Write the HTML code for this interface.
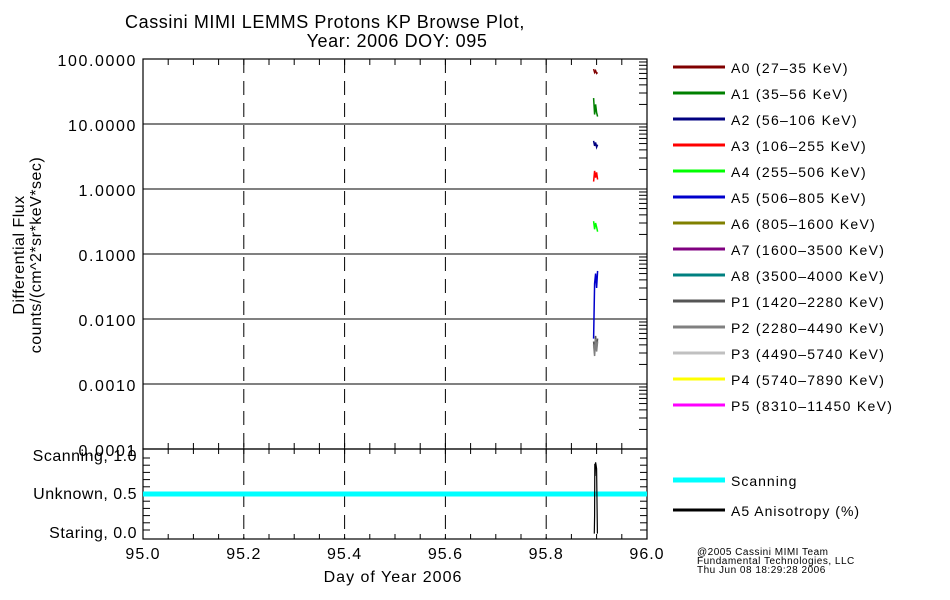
<!DOCTYPE html>
<html><head><meta charset="utf-8"><style>
body{margin:0;background:#fff;}
svg{display:block;font-family:"Liberation Sans",sans-serif;}
</style></head><body>
<svg id="c" width="950" height="600" viewBox="0 0 950 600">
<rect width="950" height="600" fill="#fff"/>
<text x="325" y="28" font-size="18" letter-spacing="0.6" text-anchor="middle">Cassini MIMI LEMMS Protons KP Browse Plot,</text>
<text x="397" y="47" font-size="18" letter-spacing="0.6" text-anchor="middle">Year: 2006 DOY: 095</text>
<g id="g"></g>
</svg>
<script>
const xTicks=[95.0,95.2,95.4,95.6,95.8,96.0];
const yTicks=[100,10,1,0.1,0.01,0.001,0.0001];
const yTickLabels=["100.0000","10.0000","1.0000","0.1000","0.0100","0.0010","0.0001"];
const times=[95.894,95.896,95.898,95.900,95.902];
const seriesNames=["A0 (27–35 KeV)","A1 (35–56 KeV)","A2 (56–106 KeV)","A3 (106–255 KeV)","A4 (255–506 KeV)","A5 (506–805 KeV)","A6 (805–1600 KeV)","A7 (1600–3500 KeV)","A8 (3500–4000 KeV)","P1 (1420–2280 KeV)","P2 (2280–4490 KeV)","P3 (4490–5740 KeV)","P4 (5740–7890 KeV)","P5 (8310–11450 KeV)"];
const seriesColors=["#800000","#008000","#000080","#ff0000","#00ff00","#0000cc","#808000","#800080","#008080","#555555","#808080","#c0c0c0","#ffff00","#ff00ff"];
const a0=[70,62,66,60,62];
const a1=[25,14,20,15,13];
const a2=[5.5,4.6,5.2,4.4,4.8];
const a3=[1.3,1.9,1.5,1.8,1.4];
const a4=[0.32,0.24,0.3,0.26,0.22];
const a5=[0.005,0.035,0.05,0.03,0.055];
const p1=[0.0045,0.003,0.0055,0.0035,0.005];
const seriesValues=[a0,a1,a2,a3,a4,a5,null,null,null,p1,p1.map(v=>v*0.9),null,null,null];
const scanTimes=[95.0,96.0];
const scanValues=[0.5,0.5];
const anisoTimes=[95.8955,95.896,95.8965,95.897,95.898,95.899,95.900,95.9015];
const anisoValues=[-0.05,0.2,0.92,0.75,0.94,0.9,0.85,-0.05];
const NS="http://www.w3.org/2000/svg";
const g=document.getElementById('g');
const X0=143,X1=647,YT=59,YB=449,LT=449,LB=539;
const xs=v=>X0+(v-95)*(X1-X0);
const ys=v=>YT+(2-Math.log10(v))*(YB-YT)/6;
const ls=v=>530-v*72;
function el(t,a,txt){const e=document.createElementNS(NS,t);for(const k in a)e.setAttribute(k,a[k]);if(txt!=null)e.textContent=txt;g.appendChild(e);return e;}
let e;
e=el('rect',{x:X0,y:YT,width:X1-X0,height:YB-YT,fill:'none',stroke:'#000','stroke-width':1.2});

e=el('rect',{x:X0,y:LT,width:X1-X0,height:LB-LT,fill:'none',stroke:'#000','stroke-width':1.2});

yTicks.forEach((v,i)=>{const y=ys(v);
 if(i>0&&i<6){e=el('line',{x1:X0,x2:X1,y1:y,y2:y,stroke:'#000','stroke-width':1});}
 e=el('text',{x:137,y:y+7,'font-size':16,'letter-spacing':1.6,'text-anchor':'end'},yTickLabels[i]);
 if(i<6){for(let m=2;m<10;m++){const yy=ys(v/10*m);
  el('line',{x1:X1-8,x2:X1,y1:yy,y2:yy,stroke:'#000'});}}
});
xTicks.forEach(v=>{const x=xs(v);
 if(v>95&&v<96){
  e=el('line',{x1:x,x2:x,y1:YT,y2:YB,stroke:'#000','stroke-dasharray':'14,8'});
  e=el('line',{x1:x,x2:x,y1:LT,y2:LB,stroke:'#000','stroke-dasharray':'14,8'});}
 e=el('text',{x:x,y:559,'font-size':16,'letter-spacing':1,'text-anchor':'middle'},v.toFixed(1));
});
for(let k=1;k<20;k++){const x=xs(95+k*0.05);
 [[YT,YT+6],[YB-6,YB],[LT,LT+5],[LB-5,LB]].forEach(p=>el('line',{x1:x,x2:x,y1:p[0],y2:p[1],stroke:'#000'}));}
[[1,'Scanning, 1.0'],[0.5,'Unknown, 0.5'],[0,'Staring, 0.0']].forEach(p=>{
 e=el('text',{x:137,y:ls(p[0])+(p[0]==1?3:p[0]==0?8:5),'font-size':16,'letter-spacing':0.5,'text-anchor':'end'},p[1]);});
for(let k=0;k<=10;k++){const y=ls(k*0.1);el('line',{x1:X0,x2:X0+7,y1:y,y2:y,stroke:'#000'});el('line',{x1:X1-7,x2:X1,y1:y,y2:y,stroke:'#000'});}
e=el('text',{x:393,y:582,'font-size':16,'letter-spacing':1,'text-anchor':'middle'},'Day of Year 2006');
e=el('text',{x:0,y:0,'font-size':16,'letter-spacing':0.5,'text-anchor':'middle',transform:'translate(24,255) rotate(-90)'},'Differential Flux');
e=el('text',{x:0,y:0,'font-size':16,'letter-spacing':0.5,'text-anchor':'middle',transform:'translate(41,255) rotate(-90)'},'counts/(cm^2*sr*keV*sec)');
seriesValues.forEach((vals,i)=>{if(!vals)return;
 const pts=vals.map((v,j)=>xs(times[j]).toFixed(1)+','+ys(v).toFixed(1)).join(' ');
 e=el('polyline',{points:pts,fill:'none',stroke:seriesColors[i],'stroke-width':1.5});
 });
e=el('line',{x1:xs(times[0]),x2:xs(times[0]),y1:ys(a5[0]),y2:ys(0.005),stroke:seriesColors[5],'stroke-width':1.5});
e=el('polyline',{points:scanTimes.map((t,j)=>xs(t)+','+ls(scanValues[j])).join(' '),fill:'none',stroke:'#00ffff','stroke-width':5});

e=el('polyline',{points:anisoTimes.map((t,j)=>xs(t).toFixed(1)+','+Math.min(LB,ls(anisoValues[j])).toFixed(1)).join(' '),fill:'none',stroke:'#000','stroke-width':1.2});

seriesNames.forEach((n,i)=>{const y=67+i*26;
 e=el('line',{x1:673,x2:725,y1:y,y2:y,stroke:seriesColors[i],'stroke-width':3});
 e=el('text',{x:731,y:y+6,'font-size':14,'letter-spacing':1.3},n);});
e=el('line',{x1:673,x2:725,y1:480,y2:480,stroke:'#00ffff','stroke-width':5});
e=el('text',{x:731,y:486,'font-size':14,'letter-spacing':1},'Scanning');
e=el('line',{x1:673,x2:725,y1:510,y2:510,stroke:'#000','stroke-width':3});
e=el('text',{x:731,y:516,'font-size':14,'letter-spacing':1},'A5 Anisotropy (%)');
['@2005 Cassini MIMI Team','Fundamental Technologies, LLC','Thu Jun 08 18:29:28 2006'].forEach((t,i)=>{
 e=el('text',{x:697,y:555+i*9,'font-size':10,'letter-spacing':0.5},t);});
</script>
</body></html>
